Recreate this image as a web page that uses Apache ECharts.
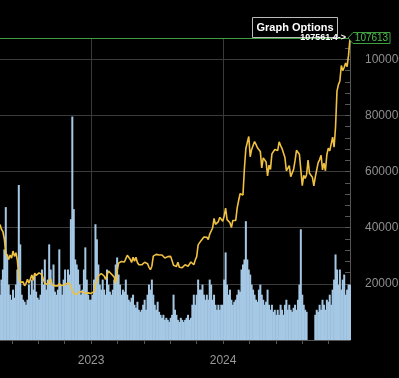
<!DOCTYPE html>
<html><head><meta charset="utf-8">
<script src="https://cdn.jsdelivr.net/npm/echarts@6/dist/echarts.min.js"></script>
<style>html,body{margin:0;padding:0;background:#000;overflow:hidden}#c{width:399px;height:378px}</style>
</head><body><div id="c"></div>
<script>
// Sampling: one value every 4 days starting 2022-04-24 (index 0) to 2024-12-17 (index 242)
const startDate = [2022, 3, 24];
const stepDays = 4;
const prices = [
41200,39500,38600,36000,31000,30100,28700,30300,29200,31700,
29800,31100,28400,22600,20600,21100,20700,19300,20200,21600,
20200,20800,23200,21300,23800,23000,23200,23900,24300,23300,
21500,20200,19800,19800,19300,21800,19700,19500,19300,19100,
19300,20200,19400,19400,19500,19200,20100,20800,20200,20900,
17600,16600,16700,16200,16500,17200,17100,17200,17200,16600,
16900,16800,16500,16600,
16800,17200,19900,21100,22800,23000,23700,23400,22800,21600,
22200,24600,24100,23500,23500,22400,20200,24700,27400,27300,
28000,28000,27800,27900,30200,30300,28800,27600,29500,28100,
29500,27600,26800,27400,26800,26500,27700,27200,27200,25900,
25100,26300,29900,30300,30500,31000,30300,30400,30300,29900,
29200,29300,29700,29000,29800,29300,26600,26100,26200,27700,
25900,25800,25800,26500,26800,26600,26300,27000,27800,27900,
26800,28500,29700,33900,34500,35400,35000,36700,36500,36600,
35800,37700,37800,39900,43300,41200,41900,42200,43700,43400,
42300,
44200,47000,42900,43200,41800,40100,42600,43100,42600,47100,
49700,52100,51800,51700,61200,68300,68300,72500,65300,67900,
67200,70700,69700,68500,69100,67200,61300,64900,64500,63400,
58500,62300,60800,66300,66900,67900,68500,67500,70600,69300,
68200,66600,65000,60300,60300,62100,58200,57700,60800,63900,
67600,67800,66200,60700,55000,58700,57600,59000,64100,59400,
58900,58000,54900,58100,58200,63200,64300,65800,60600,63000,
60300,66000,68400,67400,67000,72300,68700,75900,88700,91000,
92300,97800,96000,97200,98700,97400,101500,107561.4
];
const volumes = [
45,60,70,90,132,85,55,45,40,50,
42,55,70,154,95,45,40,38,35,40,
55,45,60,50,65,48,42,40,45,70,
55,80,50,60,95,70,55,75,48,45,
50,90,55,45,60,70,55,70,65,120,
222,130,80,75,70,55,45,50,70,92,
60,45,40,40,45,60,115,100,75,55,
50,60,50,45,70,55,48,45,50,60,
75,82,65,55,45,50,48,60,45,40,
38,42,45,35,32,38,30,28,30,35,
40,30,45,55,50,60,45,35,30,38,
28,25,22,25,20,22,20,18,22,25,
45,30,25,20,18,22,20,18,20,22,
25,20,22,35,45,35,45,60,50,50,
55,45,40,45,40,60,55,40,45,35,
30,35,30,35,35,60,87,55,45,50,
40,35,38,40,45,50,48,70,75,80,
118,80,70,65,55,50,45,40,38,50,
55,45,40,35,38,50,35,30,35,28,
30,25,30,25,35,30,25,35,40,30,
35,30,28,32,35,30,40,55,110,45,
35,30,28,null,null,null,null,null,25,30,
28,35,30,40,35,30,40,38,45,35,
50,60,85,70,55,70,50,60,65,45,
50,55,55
];
const yearLabels = ['2023-01-01', '2024-01-01'];
const xTickDates = ['2022-05-27','2022-08-08','2022-10-20','2023-01-01','2023-03-15','2023-05-27','2023-08-08','2023-10-20','2024-01-01','2024-03-14','2024-05-26','2024-08-07','2024-10-19'];
const xRange = ['2022-04-24', '2024-12-17'];
const tickerPrice = 107613;
const lastPriceText = '107561.4->';
const buttonText = 'Graph Options';

function pd(s){ const p = s.split('-').map(Number); return new Date(p[0], p[1]-1, p[2]).getTime(); }
function sampleDate(i){ return new Date(startDate[0], startDate[1], startDate[2] + i*stepDays).getTime(); }

const priceData = prices.map((v,i)=>[sampleDate(i), v]);
const volData = volumes.map((v,i)=>[sampleDate(i), v]);
const xmin = pd(xRange[0]), xmax = pd(xRange[1]);
const FONT = '"Liberation Sans", Arial, sans-serif';

const chart = echarts.init(document.getElementById('c'), null, {renderer:'canvas'});
chart.setOption({
  animation:false,
  backgroundColor:'#000',
  grid:{left:0, right:49, top:38, bottom:38, containLabel:false, outerBoundsMode:'none'},
  xAxis:[
    {type:'value', min:xmin, max:xmax, position:'bottom', scale:true,
     axisLine:{show:true, onZero:false, lineStyle:{color:'#555'}},
     axisTick:{show:true, length:4, lineStyle:{color:'#555'}, customValues:xTickDates.map(pd)},
     axisLabel:{show:false}, splitLine:{show:false}},
    {type:'value', min:xmin, max:xmax, position:'bottom', scale:true,
     axisLine:{show:false, onZero:false},
     axisTick:{show:false, customValues:yearLabels.map(pd)},
     axisLabel:{show:true, customValues:yearLabels.map(pd), color:'#999', fontSize:12, fontFamily:FONT, margin:15,
       formatter:function(v){return String(new Date(v).getFullYear());}},
     splitLine:{show:true, lineStyle:{color:'#3a3a3a'}}}
  ],
  yAxis:[
    {type:'value', position:'right', min:0, max:tickerPrice, interval:20000,
     axisLine:{show:true, lineStyle:{color:'#555'}},
     axisTick:{show:true, inside:true, length:5, lineStyle:{color:'#555'}},
     minorTick:{show:true, splitNumber:5, length:5, lineStyle:{color:'#555'}},
     axisLabel:{color:'#8e8e8e', fontSize:12, fontFamily:FONT, margin:15, showMinLabel:false, showMaxLabel:false,
       formatter:function(v){return String(v);}},
     splitLine:{show:true, lineStyle:{color:'#3a3a3a'}}},
    {type:'value', min:0, max:300, show:false, splitLine:{show:false}}
  ],
  series:[
    {type:'bar', name:'Volume', xAxisIndex:0, yAxisIndex:1, data:volData, barWidth:2,
     itemStyle:{color:'#a5c8e5'}, silent:true, z:1},
    {type:'line', name:'Price', xAxisIndex:0, yAxisIndex:0, data:priceData, showSymbol:false,
     lineStyle:{color:'#f0c040', width:1.6}, z:3, silent:true,
     markLine:{silent:true, symbol:['none','none'], label:{show:false},
       lineStyle:{color:'#3f9f3f', width:1.2, type:'solid'}, data:[{yAxis:tickerPrice}]}}
  ]
});

const yT = chart.convertToPixel({yAxisIndex:0}, tickerPrice);
const xr = chart.convertToPixel({xAxisIndex:0}, xmax);
chart.setOption({
  graphic:[
    {type:'rect', z:100, shape:{x:252.5, y:17.5, width:85, height:20}, style:{fill:'#000', stroke:'#bbb', lineWidth:1}},
    {type:'text', z:101, x:295, y:27.5, style:{text:buttonText, fill:'#fff', font:'bold 11px '+FONT, align:'center', verticalAlign:'middle'}},
    {type:'text', z:101, x:xr-4, y:yT, style:{text:lastPriceText, fill:'#fff', font:'bold 9px '+FONT, align:'right', verticalAlign:'middle'}},
    {type:'polygon', z:100, shape:{points:[[xr-2,yT],[xr+3,yT-5.5],[xr+40,yT-5.5],[xr+40,yT+5.5],[xr+3,yT+5.5]]},
     style:{fill:'#000', stroke:'#3f9f3f', lineWidth:1}},
    {type:'text', z:101, x:xr+21.5, y:yT, style:{text:String(tickerPrice), fill:'#4cc04c', font:'10px '+FONT, align:'center', verticalAlign:'middle'}}
  ]
});
</script></body></html>
